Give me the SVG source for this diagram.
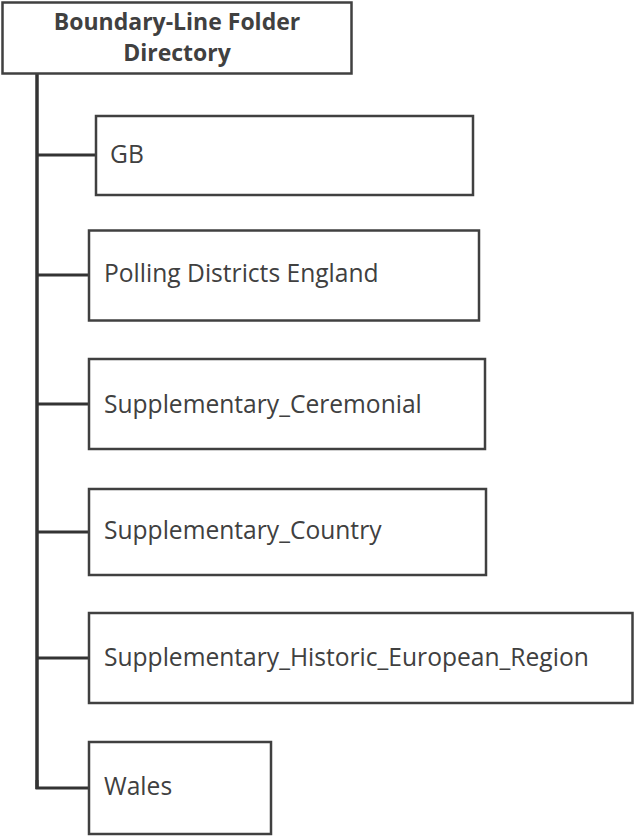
<svg xmlns="http://www.w3.org/2000/svg" width="636" height="836" viewBox="0 0 636 836">
<style>
.box{fill:#fff;stroke:#404040;stroke-width:2.5}
.lbl{font-family:"Open Sans","Noto Sans",sans-serif;font-size:24.6px;fill:#404040}
.ttl{font-family:"Open Sans","Noto Sans",sans-serif;font-size:23px;font-weight:bold;fill:#404040;text-anchor:middle}
.conn{stroke:#333;fill:none}
</style>
<rect width="636" height="836" fill="#fff"/>
<g id="connectors">
<line class="conn" x1="37" y1="74" x2="37" y2="789" stroke-width="3.5"/>
<line class="conn" x1="37" y1="155" x2="96" y2="155" stroke-width="3"/>
<line class="conn" x1="37" y1="275" x2="89" y2="275" stroke-width="3"/>
<line class="conn" x1="37" y1="404" x2="89" y2="404" stroke-width="3"/>
<line class="conn" x1="37" y1="532" x2="89" y2="532" stroke-width="3"/>
<line class="conn" x1="37" y1="658" x2="89" y2="658" stroke-width="3"/>
<path class="conn" d="M37 780 V788 H89" stroke-width="3"/>
</g>
<g id="root">
<rect class="box" x="2.5" y="2.5" width="349" height="71"/>
<text class="ttl" x="177" y="30">Boundary-Line Folder</text>
<text class="ttl" x="177" y="61">Directory</text>
</g>
<g id="gb">
<rect class="box" x="96" y="116" width="377" height="79"/>
<text class="lbl" x="110" y="163">GB</text>
</g>
<g id="polling">
<rect class="box" x="89" y="230.5" width="390" height="90"/>
<text class="lbl" x="104" y="282">Polling Districts England</text>
</g>
<g id="ceremonial">
<rect class="box" x="89" y="359" width="396" height="90"/>
<text class="lbl" x="104" y="413">Supplementary_Ceremonial</text>
</g>
<g id="country">
<rect class="box" x="89" y="489" width="397" height="86"/>
<text class="lbl" x="104" y="539">Supplementary_Country</text>
</g>
<g id="historic">
<rect class="box" x="89" y="613" width="543.5" height="90"/>
<text class="lbl" x="104" y="666">Supplementary_Historic_European_Region</text>
</g>
<g id="wales">
<rect class="box" x="89" y="742" width="182" height="92"/>
<text class="lbl" x="104" y="795">Wales</text>
</g>
</svg>
